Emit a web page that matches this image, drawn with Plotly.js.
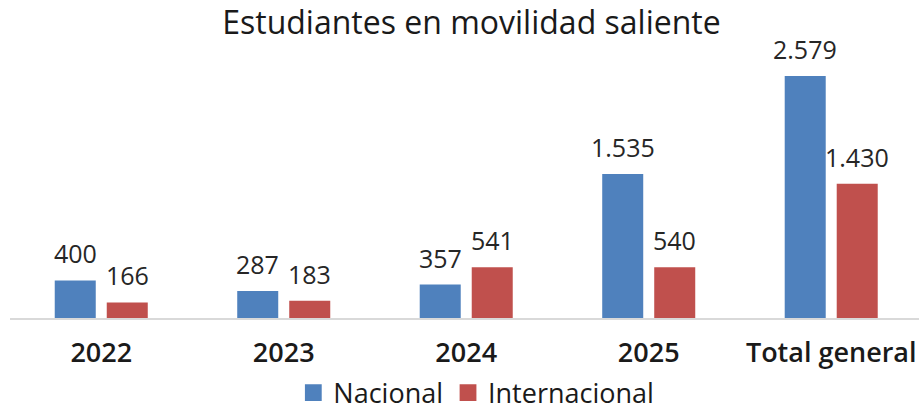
<!DOCTYPE html>
<html>
<head>
<meta charset="utf-8">
<script src="https://cdn.plot.ly/plotly-3.0.1.min.js"></script>
<style>html,body{margin:0;padding:0;background:#fff;}#chart{width:919px;height:410px;}</style>
</head>
<body>
<div id="chart"></div>
<script>
const categories = ["2022", "2023", "2024", "2025", "Total general"];
const nacional = [400, 287, 357, 1535, 2579];
const internacional = [166, 183, 541, 540, 1430];

const FONT = "'Open Sans', Lato, sans-serif";
const fmt = v => String(v).replace(/\B(?=(\d{3})+(?!\d))/g, ".");

const data = [
  {type: "bar", name: "Nacional", x: categories, y: nacional, marker: {color: "#4F81BD"}, hoverinfo: "skip"},
  {type: "bar", name: "Internacional", x: categories, y: internacional, marker: {color: "#C0504D"}, hoverinfo: "skip"}
];

const SLOT = 52;
const annotations = [];
[[nacional, -SLOT / 2], [internacional, SLOT / 2]].forEach(([vals, dx]) => {
  vals.forEach((v, i) => {
    annotations.push({
      x: i, y: v, xref: "x", yref: "y",
      text: fmt(v), showarrow: false,
      xanchor: "center", yanchor: "bottom", xshift: dx, yshift: 8,
      font: {family: FONT, size: 25, color: "#262626"}
    });
  });
});

const layout = {
  width: 919, height: 410,
  margin: {l: 10, r: 0, t: 40, b: 92, autoexpand: false},
  paper_bgcolor: "#fff", plot_bgcolor: "#fff",
  title: {text: "Estudiantes en movilidad saliente", x: 0.513, xanchor: "center", y: 0.945, yanchor: "middle",
          font: {family: FONT, size: 32, color: "#1a1a1a"}},
  barmode: "group",
  bargap: 0.43,
  bargroupgap: 0.2115,
  showlegend: true,
  legend: {orientation: "h", x: 0.513, xanchor: "center", y: -0.27, yanchor: "middle",
           font: {family: FONT, size: 27, color: "#1a1a1a"}, itemwidth: 30},
  annotations: annotations,
  xaxis: {
    type: "category", range: [-0.5, 4.481], automargin: false,
    showline: true, linecolor: "#d9d9d9", linewidth: 1.5,
    ticks: "", ticklabelstandoff: 10,
    tickfont: {family: FONT, size: 27, color: "#1a1a1a", weight: 600},
    showgrid: false, zeroline: false
  },
  yaxis: {range: [0, 2963], visible: false, showgrid: false, zeroline: false, automargin: false}
};
Plotly.newPlot("chart", data, layout, {displayModeBar: false, staticPlot: true}).then(gd => {
  gd.querySelectorAll(".legendpoints path").forEach(p => {
    const t = p.getAttribute("transform") || "";
    p.setAttribute("transform", t + " scale(1.4)");
  });
});
</script>
</body>
</html>
